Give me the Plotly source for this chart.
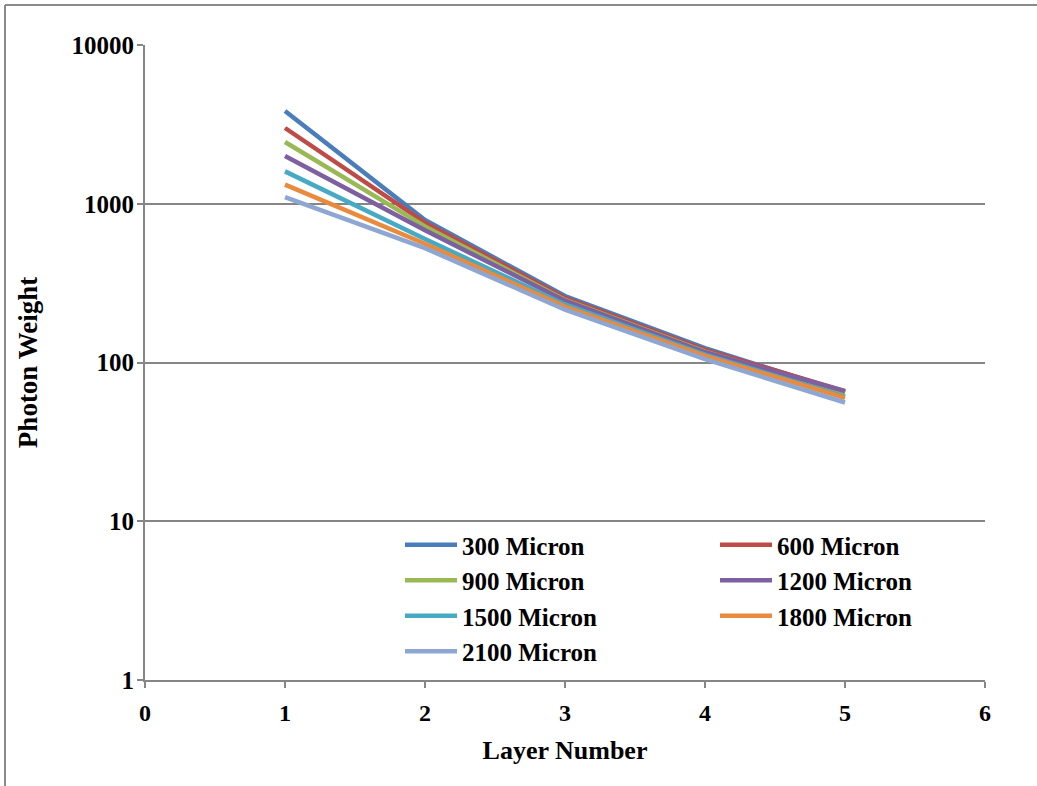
import plotly.graph_objects as go

layers = [1, 2, 3, 4, 5]
names = ["300 Micron", "600 Micron", "900 Micron", "1200 Micron",
         "1500 Micron", "1800 Micron", "2100 Micron"]
w300 = [3840, 790, 262, 123, 65]
w600 = [3000, 760, 255, 120, 66]
w900 = [2450, 720, 248, 117, 64]
w1200 = [2000, 680, 245, 116, 66]
w1500 = [1600, 600, 232, 112, 61]
w1800 = [1320, 560, 225, 110, 60]
w2100 = [1100, 525, 215, 105, 56]
series = [w300, w600, w900, w1200, w1500, w1800, w2100]
colors = ["#4A7EBB", "#BE4B48", "#98B954", "#7D60A0", "#46AAC5", "#E98A3C", "#8DA7D2"]
legend_col = ["legend", "legend2", "legend", "legend2", "legend", "legend2", "legend"]

W, H = 1037, 786
L, R, T, B = 145, 52, 45, 106
pw, ph = W - L - R, H - T - B

FONT = "Liberation Serif"

fig = go.Figure()
for n, s, c, lg in zip(names, series, colors, legend_col):
    fig.add_trace(go.Scatter(x=layers, y=s, name=n, mode="lines", legend=lg,
                             line=dict(color=c, width=4.5)))

axis_col = "#868686"
legfont = dict(family=FONT, size=25, color="black", weight="bold")
fig.update_layout(
    width=W, height=H,
    margin=dict(l=L, r=R, t=T, b=B),
    paper_bgcolor="white", plot_bgcolor="white",
    font=dict(family=FONT, color="black", size=22),
    xaxis=dict(range=[0, 6], dtick=1, tick0=0, showgrid=False,
               showline=True, linecolor=axis_col, linewidth=2,
               ticks="outside", ticklen=6, tickcolor=axis_col, tickwidth=2,
               ticklabelstandoff=4,
               tickfont=dict(family=FONT, size=24, color="black", weight="bold"),
               title=dict(text="Layer Number", standoff=16,
                          font=dict(family=FONT, size=26, color="black", weight="bold")),
               zeroline=False),
    yaxis=dict(type="log", range=[0, 4], dtick=1, showgrid=True,
               gridcolor=axis_col, gridwidth=1.5,
               showline=True, linecolor=axis_col, linewidth=2,
               ticks="outside", ticklen=6, tickcolor=axis_col, tickwidth=2,
               tickformat="d", ticklabelstandoff=-2,
               tickfont=dict(family=FONT, size=25, color="black", weight="bold"),
               title=dict(text="Photon Weight", standoff=26,
                          font=dict(family=FONT, size=27, color="black", weight="bold")),
               zeroline=False),
    legend=dict(orientation="v", x=(400 - L) / pw, y=1 - (522 - T) / ph,
                xanchor="left", yanchor="top", font=legfont,
                bgcolor="rgba(0,0,0,0)", tracegroupgap=0, itemwidth=52),
    legend2=dict(orientation="v", x=(715 - L) / pw, y=1 - (522 - T) / ph,
                 xanchor="left", yanchor="top", font=legfont,
                 bgcolor="rgba(0,0,0,0)", tracegroupgap=0, itemwidth=52),
    showlegend=True,
)

# outer frame (top and left border)
fig.add_shape(type="line", xref="paper", yref="paper",
              x0=(5 - L) / pw, x1=(W + 5 - L) / pw,
              y0=1 + (T - 5) / ph, y1=1 + (T - 5) / ph,
              line=dict(color="#8a8a8a", width=2))
fig.add_shape(type="line", xref="paper", yref="paper",
              x0=(5 - L) / pw, x1=(5 - L) / pw,
              y0=1 + (T - 5) / ph, y1=-(H + 5 - T - ph) / ph,
              line=dict(color="#8a8a8a", width=2))

fig.write_html("out.html")
